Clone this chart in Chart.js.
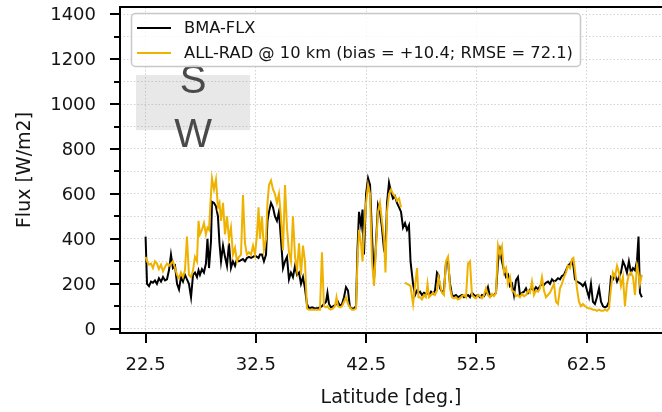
<!DOCTYPE html>
<html>
<head>
<meta charset="utf-8">
<script src="https://cdn.jsdelivr.net/npm/chart.js@4.4.1/dist/chart.umd.min.js"></script>
<style>
  html, body { margin: 0; padding: 0; background: #fff; }
  #wrap { width: 662px; height: 412px; }
</style>
</head>
<body>
<div id="wrap"><canvas id="fluxChart" width="662" height="412"></canvas></div>
<script>
// latitude of each sample (deg.)
const latitude = [
  22.50, 22.63, 22.81, 22.99, 23.17, 23.35, 23.53, 23.71, 23.90, 24.08,
  24.26, 24.44, 24.62, 24.80, 24.98, 25.17, 25.35, 25.53, 25.71, 25.89,
  26.07, 26.25, 26.43, 26.62, 26.80, 26.98, 27.16, 27.30, 27.43, 27.61,
  27.79, 27.97, 28.11, 28.25, 28.43, 28.52, 28.70, 28.88, 29.06, 29.20,
  29.34, 29.52, 29.70, 29.88, 30.06, 30.24, 30.42, 30.61, 30.79, 30.97,
  31.15, 31.33, 31.51, 31.69, 31.87, 32.06, 32.24, 32.42, 32.60, 32.74,
  32.87, 33.05, 33.23, 33.42, 33.55, 33.69, 33.87, 34.05, 34.23, 34.41,
  34.59, 34.77, 34.96, 35.14, 35.32, 35.50, 35.68, 35.86, 36.05, 36.23,
  36.41, 36.59, 36.77, 36.95, 37.13, 37.31, 37.59, 37.86, 38.13, 38.31,
  38.49, 38.67, 38.86, 38.99, 39.13, 39.31, 39.49, 39.67, 39.81, 39.94,
  40.13, 40.31, 40.49, 40.67, 40.85, 41.03, 41.21, 41.40, 41.58, 41.71,
  41.85, 42.03, 42.17, 42.30, 42.49, 42.67, 42.85, 43.03, 43.21, 43.39,
  43.57, 43.75, 43.93, 44.12, 44.25, 44.39, 44.57, 44.75, 44.93, 45.11,
  45.29, 45.48, 45.66, 45.84, 46.02, 46.20, 46.38, 46.52, 46.75, 46.93,
  47.11, 47.24, 47.38, 47.56, 47.74, 47.92, 48.06, 48.20, 48.38, 48.56,
  48.74, 48.92, 49.05, 49.19, 49.37, 49.55, 49.73, 49.92, 50.10, 50.28,
  50.46, 50.64, 50.82, 51.00, 51.18, 51.37, 51.55, 51.73, 51.91, 52.09,
  52.27, 52.45, 52.64, 52.82, 53.00, 53.18, 53.36, 53.54, 53.72, 53.91,
  54.09, 54.27, 54.45, 54.63, 54.81, 54.99, 55.18, 55.36, 55.54, 55.72,
  55.90, 56.08, 56.26, 56.44, 56.63, 56.81, 56.99, 57.17, 57.35, 57.53,
  57.71, 57.89, 58.08, 58.26, 58.44, 58.62, 58.80, 58.98, 59.16, 59.34,
  59.53, 59.71, 59.89, 60.07, 60.25, 60.43, 60.61, 60.79, 60.98, 61.16,
  61.29, 61.43, 61.61, 61.79, 61.97, 62.15, 62.34, 62.52, 62.70, 62.88,
  63.06, 63.24, 63.42, 63.61, 63.79, 63.97, 64.15, 64.33, 64.51, 64.69,
  64.87, 65.06, 65.24, 65.42, 65.60, 65.78, 65.96, 66.14, 66.32, 66.51,
  66.69, 66.87, 67.05, 67.19, 67.32, 67.50
];

// BMA-FLX flux (W/m2)
const bmaFlx = [
  410, 200, 190, 210, 205, 215, 200, 225, 210, 230,
  215, 220, 260, 330, 270, 280, 200, 175, 230, 210,
  240, 220, 200, 140, 240, 250, 230, 260, 240, 265,
  250, 290, 400, 270, 390, 565, 560, 545, 500, 380,
  300, 370, 320, 280, 380, 270, 300, 280, 310, 300,
  305, 310, 300, 315, 320, 315, 320, 325, 320, 315,
  330, 330, 300, 330, 480, 520, 560, 540, 500, 480,
  520, 400, 270, 300, 320, 220, 250, 230, 280, 240,
  250, 200, 230, 180, 110, 90, 95, 90, 92, 95,
  100, 110, 120, 160, 110, 95, 100, 105, 110, 120,
  100, 110, 140, 185, 170, 95, 90, 90, 100, 350,
  520, 460, 530, 330, 600, 670, 640, 410, 220, 380,
  550, 520, 450, 350, 330, 560, 650, 610, 580, 590,
  560, 540, 520, 450, 470, 440, 460, 300, 200, 150,
  170, 160, 165, 150, 160, 155, 160, 150, 165, 155,
  170, 250, 240, 180, 165, 170, 290, 300, 200, 150,
  145, 150, 140, 145, 150, 140, 145, 150, 140, 160,
  150, 145, 150, 140, 150, 145, 160, 185, 145, 150,
  150, 160, 300, 350, 300, 260, 230, 240, 190, 200,
  150, 215, 230, 150, 160, 165, 180, 160, 175, 180,
  170, 185, 175, 190, 200, 195, 205, 210, 200, 220,
  210, 215, 225, 220, 235, 240, 260, 280, 290, 300,
  280, 220, 210, 205, 200, 190, 205, 170, 140, 200,
  120, 110, 140, 180, 120, 100, 95, 100, 120, 230,
  220, 240, 210, 230, 250, 300, 280, 250, 300, 250,
  270, 260, 300, 410, 160, 140
];

// ALL-RAD @ 10 km flux (W/m2), null = no retrieval
const allRad = [
  320, 300, 285, 290, 270, 300, 290, 265, 285, 255,
  275, 290, 280, 290, 300, 270, 240, 225, 250, 230,
  260, 410, 240, 230, 260, 320, 300, 480, 420, 440,
  470, 420, 450, 440, 600, 670, 620, 665, 540, 560,
  480, 560, 420, 500, 400, 450, 330, 360, 300, 320,
  330, 595, 380, 330, 340, 330, 370, 330, 420, 540,
  400, 500, 350, 400, 560, 640, 660, 620, 600, 560,
  600, 500, 350, 640, 450, 340, 300, 500, 320, 260,
  380, 240, 370, 300, 90, 85, 85, 85, 85, 85,
  340, 100, 95, 100, 90, 85, 90, 100, 140, 100,
  95, 100, 120, 140, 110, 95, 85, 85, 90, 300,
  440, 380, 300, 420, 560, 640, 600, 300, 190, 360,
  520, 560, 480, 400, 250, 520, 600, 620, 600, 590,
  570, 580, 540, null, 205, 200, 195, 190, 110, 190,
  270, 140, 140, 130, 150, 140, 200, 140, 150, 160,
  150, 170, 230, 200, 160, 150, 300, 320, 180, 140,
  135, 140, 130, 135, 145, 150, 140, 290, 300, 150,
  140, 135, 150, 145, 135, 150, 180, 150, 140, 155,
  145, 160, 370, 330, 365, 250, 270, 200, 230, 170,
  165, 145, 150, 140, 155, 145, 150, 170, 160, 210,
  150, 170, 165, 180, 230, 170, 140, 150, 160, 180,
  200, 120, 110, 180, 200, 230, 250, 280, 270, 310,
  315, 260, 180, 120, 100, 110, 100, 95, 90, 90,
  85, 85, 80, 85, 80, 80, 85, 80, 90, 180,
  250, 230, 280, 250, 190, 230, 100, 200, 240, 250,
  230, 150, 280, 250, 200, 240
];

const xTickValues = [22.5, 32.5, 42.5, 52.5, 62.5];
const xTickLabels = ['22.5', '32.5', '42.5', '52.5', '62.5'];
const yTickValues = [0, 100, 200, 300, 400, 500, 600, 700, 800, 900, 1000, 1100, 1200, 1300, 1400];
const seriesNames = ['BMA-FLX', 'ALL-RAD @ 10 km (bias = +10.4; RMSE = 72.1)'];

// shaded "S / W" marker in data units
const boxLat = [21.63, 31.97];
const boxFlux = [884, 1129];
const boxLetters = ['S', 'W'];
const letterLat = 26.8;
const letterFlux = [1050, 810];

const BLACK = '#000000';
const GOLD = '#efb200';
const TEXT = '#141414';

Chart.defaults.font.family = '"DejaVu Sans", sans-serif';
Chart.defaults.color = TEXT;

const decor = {
    id: 'decor',
    beforeDatasetsDraw(chart) {
        const { ctx, scales: { x, y } } = chart;
        const l = x.getPixelForValue(boxLat[0]);
        const r = x.getPixelForValue(boxLat[1]);
        const t = y.getPixelForValue(boxFlux[1]);
        const b = y.getPixelForValue(boxFlux[0]);
        ctx.save();
        ctx.fillStyle = 'rgba(150,150,150,0.22)';
        ctx.fillRect(l, t, r - l, b - t);
        ctx.restore();
    },
    afterDraw(chart) {
        const { ctx, chartArea: a, scales: { x, y } } = chart;
        ctx.save();

        // letters inside the shaded box
        ctx.fillStyle = '#4a4a4a';
        ctx.font = '40px "Liberation Sans"';
        ctx.textAlign = 'center';
        ctx.textBaseline = 'alphabetic';
        boxLetters.forEach((s, i) => {
            ctx.fillText(s, x.getPixelForValue(letterLat), y.getPixelForValue(letterFlux[i]));
        });

        // spines (right one is outside the picture)
        ctx.strokeStyle = '#000';
        ctx.lineWidth = 2;
        ctx.beginPath();
        ctx.moveTo(a.right + 2, a.top);
        ctx.lineTo(a.left, a.top);
        ctx.lineTo(a.left, a.bottom);
        ctx.lineTo(a.right + 2, a.bottom);
        ctx.stroke();

        // tick marks + y labels
        ctx.fillStyle = TEXT;
        ctx.font = '18px "DejaVu Sans"';
        ctx.textAlign = 'right';
        ctx.textBaseline = 'middle';
        ctx.beginPath();
        yTickValues.forEach(v => {
            const py = Math.round(y.getPixelForValue(v));
            const major = v % 200 === 0;
            ctx.moveTo(a.left - (major ? 10 : 6), py);
            ctx.lineTo(a.left, py);
            if (major) ctx.fillText(String(v), a.left - 24, py + 1);
        });
        xTickValues.forEach(v => {
            const px = Math.round(x.getPixelForValue(v));
            ctx.moveTo(px, a.bottom);
            ctx.lineTo(px, a.bottom + 10);
        });
        ctx.stroke();

        // legend box
        const lx = a.left + 11, ly = a.top + 6, lw = 449, lh = 53;
        ctx.beginPath();
        ctx.roundRect(lx + 0.5, ly + 0.5, lw, lh, 4);
        ctx.fillStyle = 'rgba(255,255,255,0.8)';
        ctx.fill();
        ctx.strokeStyle = '#c8c8c8';
        ctx.lineWidth = 1.5;
        ctx.stroke();

        ctx.font = '16.3px "DejaVu Sans"';
        ctx.textAlign = 'left';
        ctx.textBaseline = 'middle';
        [BLACK, GOLD].forEach((c, i) => {
            const ry = ly + 15 + i * 25;
            ctx.strokeStyle = c;
            ctx.lineWidth = 2;
            ctx.beginPath();
            ctx.moveTo(lx + 6, ry);
            ctx.lineTo(lx + 40, ry);
            ctx.stroke();
            ctx.fillStyle = TEXT;
            ctx.fillText(seriesNames[i], lx + 53, ry + 1);
        });

        ctx.restore();
    }
};

const toPoints = vals => latitude.map((lat, i) => ({ x: lat, y: vals[i] }));

new Chart(document.getElementById('fluxChart'), {
    type: 'line',
    data: {
        datasets: [
            {
                label: seriesNames[0],
                data: toPoints(bmaFlx),
                borderColor: BLACK,
                borderWidth: 2,
                order: 2
            },
            {
                label: seriesNames[1],
                data: toPoints(allRad),
                borderColor: GOLD,
                borderWidth: 2,
                order: 1
            }
        ]
    },
    options: {
        responsive: false,
        animation: false,
        devicePixelRatio: 1,
        spanGaps: false,
        elements: { point: { radius: 0 }, line: { tension: 0 } },
        layout: { padding: { top: 7, right: 0, left: 0, bottom: 0 }, autoPadding: false },
        plugins: { legend: { display: false }, tooltip: { enabled: false } },
        scales: {
            x: {
                type: 'linear',
                min: 20.18,
                max: 69.32,
                afterBuildTicks: s => { s.ticks = xTickValues.map(v => ({ value: v })); },
                afterFit: s => { s.height = 79; s.paddingLeft = 0; s.paddingRight = 0; },
                grid: { color: '#d2d2d2', lineWidth: 1, drawTicks: false },
                border: { display: false, dash: [1.5, 2] },
                ticks: {
                    autoSkip: false,
                    maxRotation: 0,
                    padding: 22,
                    font: { size: 18 },
                    callback: (v, i) => xTickLabels[i]
                },
                title: {
                    display: true,
                    text: 'Latitude [deg.]',
                    font: { size: 19 },
                    padding: { top: 0, bottom: 3 }
                }
            },
            y: {
                type: 'linear',
                min: -19,
                max: 1432,
                afterBuildTicks: s => { s.ticks = yTickValues.map(v => ({ value: v })); },
                afterFit: s => { s.width = 120; s.paddingTop = 0; s.paddingBottom = 0; },
                grid: { color: '#d2d2d2', lineWidth: 1, drawTicks: false },
                border: { display: false, dash: [1.5, 2] },
                ticks: { display: false },
                title: {
                    display: true,
                    text: 'Flux [W/m2]',
                    font: { size: 19 },
                    padding: { top: 14, bottom: 0 }
                }
            }
        }
    },
    plugins: [decor]
});
</script>
</body>
</html>
